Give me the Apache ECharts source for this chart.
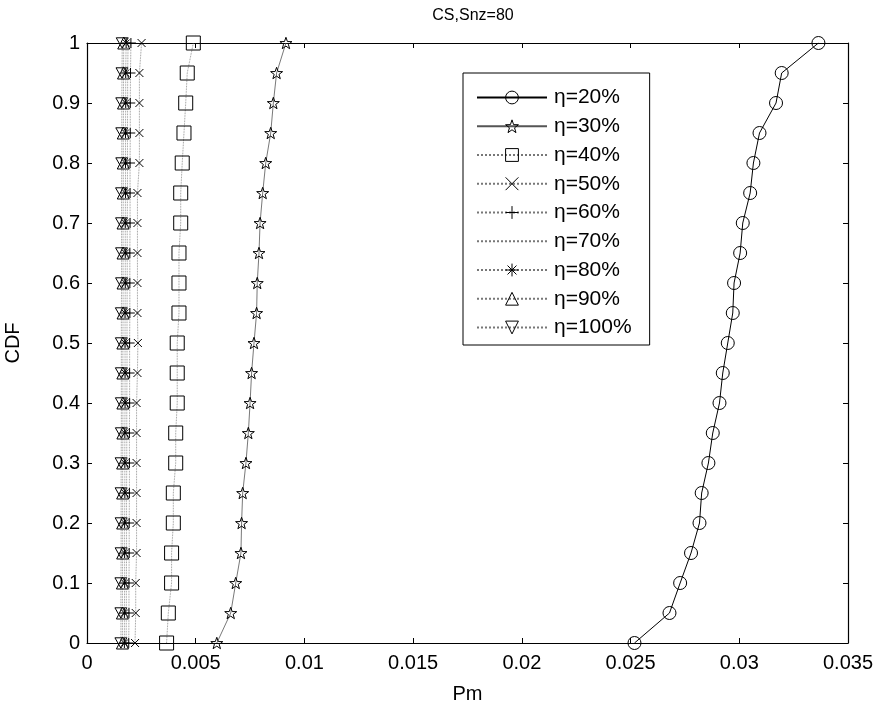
<!DOCTYPE html>
<html>
<head>
<meta charset="utf-8">
<script src="https://cdn.jsdelivr.net/npm/echarts@6/dist/echarts.min.js"></script>
<style>
  html, body { margin: 0; padding: 0; background: #fff; }
  #chart { width: 881px; height: 706px; }
</style>
</head>
<body>
<div id="chart"></div>
<script>
// CDF levels shared by every curve
const cdfLevels = [0, 0.05, 0.1, 0.15, 0.2, 0.25, 0.3, 0.35, 0.4, 0.45, 0.5,
                   0.55, 0.6, 0.65, 0.7, 0.75, 0.8, 0.85, 0.9, 0.95, 1];

// Pm values (x 1e-3) for each eta, ordered by CDF level
const pmEta20 = [25.18, 26.79, 27.28, 27.78, 28.17, 28.27, 28.58, 28.78, 29.09, 29.24, 29.47,
                 29.70, 29.76, 30.04, 30.16, 30.50, 30.65, 30.93, 31.69, 31.95, 33.64];
const pmEta30 = [5.97, 6.61, 6.84, 7.08, 7.11, 7.16, 7.31, 7.42, 7.50, 7.57, 7.68,
                 7.80, 7.83, 7.91, 7.96, 8.08, 8.22, 8.45, 8.57, 8.72, 9.15];
const pmEta40 = [3.66, 3.74, 3.89, 3.89, 3.97, 3.97, 4.08, 4.08, 4.15, 4.15, 4.15,
                 4.23, 4.23, 4.23, 4.31, 4.31, 4.38, 4.46, 4.54, 4.61, 4.89];
const pmEta50 = [2.21, 2.24, 2.24, 2.28, 2.28, 2.28, 2.28, 2.28, 2.28, 2.32, 2.34,
                 2.32, 2.32, 2.32, 2.32, 2.32, 2.41, 2.41, 2.41, 2.41, 2.51];
const pmEta60 = [1.92, 1.93, 1.93, 1.94, 1.94, 1.95, 1.95, 1.95, 1.96, 1.96, 1.96,
                 1.97, 1.97, 1.97, 1.98, 1.98, 1.98, 1.99, 1.99, 2.00, 2.02];
const pmEta70 = [1.80, 1.81, 1.81, 1.82, 1.82, 1.82, 1.83, 1.83, 1.83, 1.84, 1.84,
                 1.84, 1.85, 1.85, 1.85, 1.86, 1.86, 1.86, 1.87, 1.87, 1.89];
const pmEta80 = [1.72, 1.72, 1.73, 1.73, 1.73, 1.74, 1.74, 1.74, 1.75, 1.75, 1.75,
                 1.75, 1.76, 1.76, 1.76, 1.77, 1.77, 1.77, 1.78, 1.78, 1.80];
const pmEta90 = [1.63, 1.63, 1.63, 1.64, 1.64, 1.64, 1.64, 1.65, 1.65, 1.65, 1.65,
                 1.66, 1.66, 1.66, 1.66, 1.67, 1.67, 1.67, 1.68, 1.68, 1.69];
const pmEta100 = [1.56, 1.56, 1.56, 1.57, 1.57, 1.57, 1.57, 1.58, 1.58, 1.58, 1.58,
                  1.58, 1.59, 1.59, 1.59, 1.59, 1.60, 1.60, 1.60, 1.61, 1.62];

const seriesNames = ['η=20%', 'η=30%', 'η=40%', 'η=50%', 'η=60%', 'η=70%', 'η=80%', 'η=90%', 'η=100%'];
const xTicks = [0, 0.005, 0.01, 0.015, 0.02, 0.025, 0.03, 0.035];

const FONT = 'Liberation Sans, Arial, sans-serif';

// marker shapes
const STAR = 'path://M0,-10 L2.35,-3.24 L9.51,-3.09 L3.8,1.24 L5.88,8.09 L0,4 L-5.88,8.09 L-3.8,1.24 L-9.51,-3.09 L-2.35,-3.24 Z';
const XMARK = 'path://M0,0 L10,10 M10,0 L0,10';
const PLUS = 'path://M5,0 L5,10 M0,5 L10,5';
const ASTER = 'path://M5,0 L5,10 M0,5 L10,5 M1.5,1.5 L8.5,8.5 M8.5,1.5 L1.5,8.5';
const TRI_DOWN = 'path://M0,0 L10,0 L5,8.66 Z';

const styles = [
  { data: pmEta20, symbol: 'circle', size: 13, line: { color: '#000', width: 1, type: 'solid' } },
  { data: pmEta30, symbol: STAR, size: 12, line: { color: '#555', width: 0.8, type: 'solid' } },
  { data: pmEta40, symbol: 'rect', size: 14, line: { color: '#777', width: 0.8, type: 'dotted' } },
  { data: pmEta50, symbol: XMARK, size: 8, line: { color: '#777', width: 0.8, type: 'dotted' } },
  { data: pmEta60, symbol: PLUS, size: 10, line: { color: '#777', width: 0.8, type: 'dotted' } },
  { data: pmEta70, symbol: 'none', size: 0, line: { color: '#777', width: 0.8, type: 'dotted' } },
  { data: pmEta80, symbol: ASTER, size: 10, line: { color: '#777', width: 0.8, type: 'dotted' } },
  { data: pmEta90, symbol: 'triangle', size: 12, line: { color: '#777', width: 0.8, type: 'dotted' } },
  { data: pmEta100, symbol: TRI_DOWN, size: 12, line: { color: '#777', width: 0.8, type: 'dotted' } }
];

const hollow = { color: 'rgba(255,255,255,0)', borderColor: '#000', borderWidth: 1 };

const series = styles.map((s, i) => ({
  name: seriesNames[i],
  type: 'line',
  xAxisIndex: 0,
  yAxisIndex: 0,
  data: s.data.map((v, k) => [v / 1000, cdfLevels[k]]),
  symbol: s.symbol,
  symbolSize: s.size,
  showSymbol: s.symbol !== 'none',
  symbolKeepAspect: true,
  lineStyle: s.line,
  itemStyle: hollow,
  emphasis: { disabled: true },
  animation: false,
  z: 10 - i
}));

// legend entries: hollow markers, the marker-less curve gets an invisible one
const legendData = seriesNames.map((n, i) => ({
  name: n,
  itemStyle: styles[i].symbol === 'none'
    ? { color: 'rgba(0,0,0,0)', borderColor: 'rgba(0,0,0,0)', borderWidth: 0 }
    : { color: 'rgba(255,255,255,0)', borderColor: '#000', borderWidth: 1 }
}));

const axisLine = { show: true, onZero: false, lineStyle: { color: '#000', width: 1.2 } };
const tickIn = { show: true, inside: true, length: 5, lineStyle: { color: '#000', width: 1 } };
const labelStyle = { color: '#000', fontFamily: FONT, fontSize: 20 };
const nameStyle = { color: '#000', fontFamily: FONT, fontSize: 20 };

const chart = echarts.init(document.getElementById('chart'), null, { renderer: 'canvas' });
chart.setOption({
  backgroundColor: '#fff',
  animation: false,
  title: {
    text: 'CS,Snz=80',
    left: 468, top: 3, textAlign: 'center',
    textStyle: { color: '#000', fontFamily: FONT, fontSize: 16, fontWeight: 'normal' }
  },
  grid: { left: 87, right: 33, top: 43, bottom: 63, containLabel: false, outerBoundsMode: 'none' },
  legend: {
    orient: 'vertical',
    left: 463, top: 73,
    padding: [14, 18, 7, 13],
    backgroundColor: '#fff',
    borderColor: '#000',
    borderWidth: 1,
    itemWidth: 70,
    itemHeight: 16,
    itemGap: 7.75,
    data: legendData,
    itemStyle: { color: 'rgba(255,255,255,0)', borderColor: '#000', borderWidth: 1 },
    textStyle: { color: '#000', fontFamily: FONT, fontSize: 21, padding: [0, 0, 0, 2] },
    selectedMode: false
  },
  xAxis: [
    {
      type: 'value', min: 0, max: 0.035, interval: 0.005, position: 'bottom',
      name: 'Pm', nameLocation: 'middle', nameGap: 41,
      nameTextStyle: nameStyle,
      axisLine: axisLine, axisTick: tickIn,
      axisLabel: Object.assign({ margin: 10, formatter: v => String(parseFloat(v.toFixed(3))) }, labelStyle),
      splitLine: { show: false }
    },
    {
      type: 'value', min: 0, max: 0.035, interval: 0.005, position: 'top',
      axisLine: axisLine, axisTick: tickIn, axisLabel: { show: false }, splitLine: { show: false }
    }
  ],
  yAxis: [
    {
      type: 'value', min: 0, max: 1, interval: 0.1, position: 'left',
      name: 'CDF', nameLocation: 'middle', nameGap: 64, nameRotate: 90,
      nameTextStyle: nameStyle,
      axisLine: axisLine, axisTick: tickIn,
      axisLabel: Object.assign({ margin: 7, formatter: v => String(parseFloat(v.toFixed(1))) }, labelStyle),
      splitLine: { show: false }
    },
    {
      type: 'value', min: 0, max: 1, interval: 0.1, position: 'right',
      axisLine: axisLine, axisTick: tickIn, axisLabel: { show: false }, splitLine: { show: false }
    }
  ],
  series: series
});
</script>
</body>
</html>
